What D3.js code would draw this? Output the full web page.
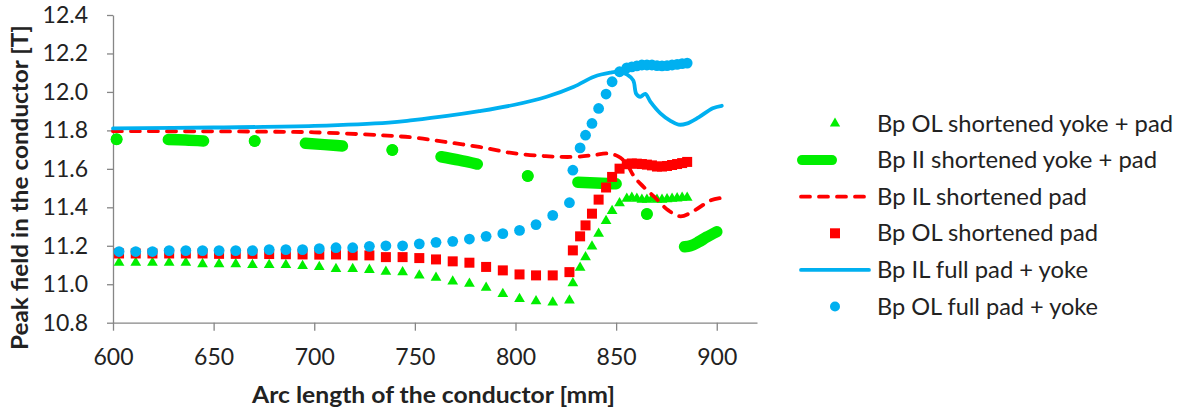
<!DOCTYPE html>
<html>
<head>
<meta charset="utf-8">
<script src="https://cdn.jsdelivr.net/npm/d3@7"></script>
<style>
  body { margin: 0; background: #fff; }
  svg { display: block; font-family: Lato, "Open Sans", sans-serif; }
  .axis path, .axis line { stroke: #868686; stroke-width: 1.3; }
  .axis text { font-size: 23px; fill: #222; font-family: Lato, sans-serif; }
</style>
</head>
<body>
<div id="chart"></div>
<script>
// Arc length positions shared by the outer layer (OL) series [mm]
var olX = [603, 611.3, 619.6, 627.9, 636.2, 644.5, 652.7, 661, 669.3, 677.6,
  685.9, 694.2, 702.5, 710.8, 719.1, 727.4, 735.6, 743.9, 752.2, 760.5,
  768.8, 777.1, 785.4, 793.7, 802, 810.2, 818.5, 826.8, 828.5, 832.1,
  834.8, 838, 841.3, 845, 848, 851.7, 855.3, 857.8, 860.3, 862.8,
  865.3, 867.8, 870.3, 872.8, 875.3, 877.8, 880.3, 882.8, 885.3];

// Bp OL shortened yoke + pad [T]
var olShortYokePadY = [11.112, 11.112, 11.112, 11.112, 11.112, 11.105, 11.105, 11.105, 11.1, 11.1,
  11.1, 11.095, 11.09, 11.08, 11.08, 11.075, 11.065, 11.063, 11.046, 11.034,
  11.015, 11.003, 10.982, 10.95, 10.924, 10.912, 10.905, 10.916, 11.006, 11.086,
  11.141, 11.197, 11.263, 11.329, 11.381, 11.422, 11.445, 11.45, 11.445, 11.44,
  11.44, 11.445, 11.44, 11.44, 11.442, 11.445, 11.447, 11.45, 11.45];

// Bp OL shortened pad [T]
var olShortPadY = [11.16, 11.16, 11.16, 11.16, 11.16, 11.16, 11.158, 11.158, 11.158, 11.157,
  11.156, 11.155, 11.154, 11.155, 11.15, 11.15, 11.141, 11.141, 11.136, 11.129,
  11.119, 11.112, 11.09, 11.072, 11.051, 11.046, 11.046, 11.063, 11.176, 11.249,
  11.306, 11.367, 11.44, 11.503, 11.558, 11.601, 11.624, 11.628, 11.627, 11.625,
  11.622, 11.618, 11.612, 11.612, 11.615, 11.62, 11.625, 11.63, 11.636];

// Bp OL full pad + yoke [T]
var olFullY = [11.17, 11.17, 11.17, 11.175, 11.175, 11.175, 11.175, 11.175, 11.175, 11.18,
  11.18, 11.18, 11.185, 11.19, 11.19, 11.197, 11.2, 11.2, 11.21, 11.218,
  11.223, 11.235, 11.249, 11.263, 11.28, 11.31, 11.358, 11.424, 11.593, 11.709,
  11.775, 11.836, 11.914, 11.989, 12.053, 12.105, 12.125, 12.13, 12.135, 12.14,
  12.14, 12.14, 12.137, 12.135, 12.137, 12.14, 12.143, 12.147, 12.15];

// Bp II shortened yoke + pad (null = gap in the data)
var iiX = [601.8, null, 627.5, 636, 645, null, 670.4, null, 695.6, 705, 714, null, 738.8, null,
  763, 772, 781, null, 806.1, null, 831, 840, 850, null, 865.3, null, 884, 887, 891, 895, 900];
var iiY = [11.754, null, 11.752, 11.75, 11.745, null, 11.745, null, 11.733, 11.726, 11.719, null, 11.698, null,
  11.663, 11.645, 11.625, null, 11.563, null, 11.53, 11.527, 11.522, null, 11.365, null,
  11.195, 11.2, 11.22, 11.245, 11.273];

// Bp IL shortened pad
var ilShortX = [600, 650, 680, 700, 732, 749, 765, 782, 798, 815, 828, 838, 846, 851, 855,
  858.5, 862, 869, 876, 882, 889, 897, 902];
var ilShortY = [11.796, 11.795, 11.793, 11.79, 11.775, 11.763, 11.74, 11.714, 11.683, 11.666,
  11.662, 11.67, 11.68, 11.665, 11.63, 11.567, 11.523, 11.454, 11.384, 11.353, 11.384, 11.436, 11.448];

// Bp IL full pad + yoke
var ilFullX = [600, 650, 700, 737, 749, 766, 782, 799, 815.5, 829, 839, 847, 851.5, 855.5,
  858.5, 860, 862, 864.5, 867, 872, 877, 881, 885, 891, 898, 902.5];
var ilFullY = [11.81, 11.815, 11.823, 11.84, 11.853, 11.875, 11.9, 11.932, 11.975, 12.027,
  12.079, 12.1, 12.105, 12.09, 12.06, 11.99, 11.975, 11.99, 11.95, 11.889, 11.85, 11.83,
  11.835, 11.868, 11.915, 11.928];

var xTicks = [600, 650, 700, 750, 800, 850, 900];
var yTicks = [10.8, 11.0, 11.2, 11.4, 11.6, 11.8, 12.0, 12.2, 12.4];

var legendLabels = ['Bp OL shortened yoke + pad', 'Bp II shortened yoke + pad',
  'Bp IL shortened pad', 'Bp OL shortened pad', 'Bp IL full pad + yoke', 'Bp OL full pad + yoke'];
// widths the labels take in the original picture
var legendWidths = [296, 280, 210, 221, 211, 221];

var GREEN = '#00ee00', RED = '#ff0000', BLUE = '#00b0f0';

var width = 1182, height = 413;

var svg = d3.select('#chart').append('svg')
  .attr('width', width)
  .attr('height', height);

var x = d3.scaleLinear().domain([600, 920]).range([113, 757]);
var y = d3.scaleLinear().domain([10.8, 12.4]).range([322.7, 15]);

// axes
svg.append('g')
  .attr('class', 'axis')
  .attr('transform', 'translate(0,' + y(10.8) + ')')
  .call(d3.axisBottom(x).tickValues(xTicks).tickSize(8).tickSizeOuter(0).tickPadding(18).tickFormat(d3.format('d')));

svg.append('g')
  .attr('class', 'axis')
  .attr('transform', 'translate(' + x(600) + ',0)')
  .call(d3.axisLeft(y).tickValues(yTicks).tickSize(6).tickSizeOuter(0).tickPadding(19).tickFormat(d3.format('.1f')));

// axis titles
svg.append('text')
  .attr('transform', 'translate(28,187.5) rotate(-90)')
  .attr('text-anchor', 'middle')
  .attr('textLength', 325)
  .attr('lengthAdjust', 'spacingAndGlyphs')
  .style('font-weight', 'bold')
  .style('font-size', '23px')
  .attr('fill', '#222')
  .text('Peak field in the conductor [T]');

svg.append('text')
  .attr('x', 433.5)
  .attr('y', 403)
  .attr('text-anchor', 'middle')
  .attr('textLength', 363)
  .attr('lengthAdjust', 'spacingAndGlyphs')
  .style('font-weight', 'bold')
  .style('font-size', '23px')
  .attr('fill', '#222')
  .text('Arc length of the conductor [mm]');

var plot = svg.append('g');

function zip(xs, ys) {
  return xs.map(function (d, i) { return { x: d, y: ys[i] }; });
}

var smooth = d3.line()
  .x(function (d) { return x(d.x); })
  .y(function (d) { return y(d.y); })
  .curve(d3.curveCatmullRom.alpha(0.5));

// triangles: Bp OL shortened yoke + pad
var tri = d3.symbol().type(d3.symbolTriangle).size(50);
plot.selectAll('.tri').data(zip(olX, olShortYokePadY)).enter().append('path')
  .attr('d', tri)
  .attr('transform', function (d) { return 'translate(' + x(d.x) + ',' + y(d.y) + ')'; })
  .attr('fill', GREEN);

// thick segments: Bp II shortened yoke + pad
var iiData = zip(iiX, iiY);
var segLine = d3.line()
  .defined(function (d) { return d.x !== null && d.y !== null; })
  .x(function (d) { return x(d.x); })
  .y(function (d) { return y(d.y); })
  .curve(d3.curveMonotoneX);
plot.append('path')
  .attr('d', segLine(iiData))
  .attr('fill', 'none')
  .attr('stroke', GREEN)
  .attr('stroke-width', 11.5)
  .attr('stroke-linecap', 'round')
  .attr('stroke-linejoin', 'round');
// isolated points would vanish as zero-length lines, so draw them as dots
plot.selectAll('.iidot').data(iiData.filter(function (d, i) {
    return d.x !== null && (i === 0 || iiData[i - 1].x === null) && (i === iiData.length - 1 || iiData[i + 1].x === null);
  })).enter().append('circle')
  .attr('cx', function (d) { return x(d.x); })
  .attr('cy', function (d) { return y(d.y); })
  .attr('r', 6)
  .attr('fill', GREEN);

// dashed: Bp IL shortened pad
plot.append('path')
  .attr('d', smooth(zip(ilShortX, ilShortY)))
  .attr('fill', 'none')
  .attr('stroke', RED)
  .attr('stroke-width', 3.8)
  .attr('stroke-dasharray', '9,9')
  .attr('stroke-linecap', 'round');

// squares: Bp OL shortened pad
plot.selectAll('.sq').data(zip(olX, olShortPadY)).enter().append('rect')
  .attr('x', function (d) { return x(d.x) - 5; })
  .attr('y', function (d) { return y(d.y) - 5; })
  .attr('width', 10)
  .attr('height', 10)
  .attr('fill', RED);

// solid: Bp IL full pad + yoke
plot.append('path')
  .attr('d', smooth(zip(ilFullX, ilFullY)))
  .attr('fill', 'none')
  .attr('stroke', BLUE)
  .attr('stroke-width', 3.8)
  .attr('stroke-linecap', 'round');

// dots: Bp OL full pad + yoke
plot.selectAll('.dot').data(zip(olX, olFullY)).enter().append('circle')
  .attr('cx', function (d) { return x(d.x); })
  .attr('cy', function (d) { return y(d.y); })
  .attr('r', 5.4)
  .attr('fill', BLUE);

// legend
var legend = svg.append('g');
var rowY = function (i) { return 123.5 + i * 36.6; };

legend.selectAll('text').data(legendLabels).enter().append('text')
  .attr('x', 877)
  .attr('y', function (d, i) { return rowY(i); })
  .attr('dy', '0.35em')
  .attr('textLength', function (d, i) { return legendWidths[i]; })
  .attr('lengthAdjust', 'spacingAndGlyphs')
  .style('font-size', '23px')
  .attr('fill', '#222')
  .text(function (d) { return d; });

legend.append('path')
  .attr('d', d3.symbol().type(d3.symbolTriangle).size(46))
  .attr('transform', 'translate(835,' + rowY(0) + ')')
  .attr('fill', GREEN);
legend.append('line')
  .attr('x1', 802).attr('x2', 832).attr('y1', rowY(1)).attr('y2', rowY(1))
  .attr('stroke', GREEN).attr('stroke-width', 10).attr('stroke-linecap', 'round');
legend.append('line')
  .attr('x1', 801).attr('x2', 869).attr('y1', rowY(2)).attr('y2', rowY(2))
  .attr('stroke', RED).attr('stroke-width', 3.8)
  .attr('stroke-dasharray', '9,9').attr('stroke-linecap', 'round');
legend.append('rect')
  .attr('x', 830).attr('y', rowY(3) - 5).attr('width', 10).attr('height', 10)
  .attr('fill', RED);
legend.append('line')
  .attr('x1', 801).attr('x2', 869).attr('y1', rowY(4)).attr('y2', rowY(4))
  .attr('stroke', BLUE).attr('stroke-width', 3.8).attr('stroke-linecap', 'round');
legend.append('circle')
  .attr('cx', 835).attr('cy', rowY(5)).attr('r', 5)
  .attr('fill', BLUE);
</script>
</body>
</html>
